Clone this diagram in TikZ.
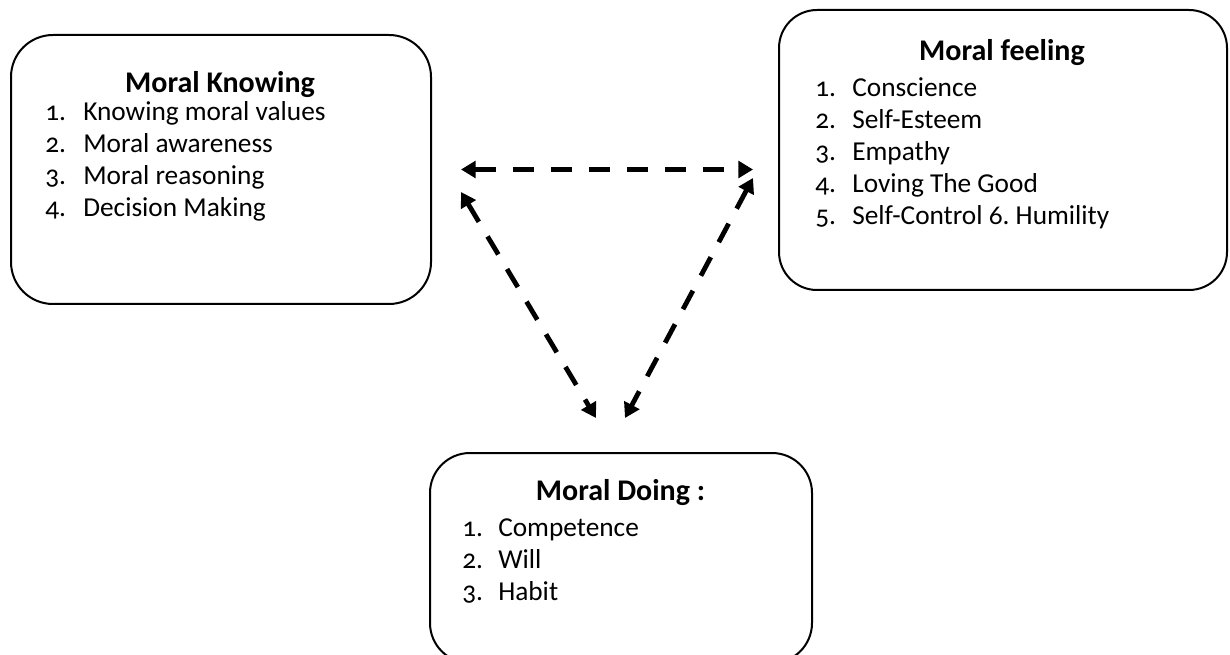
\documentclass[tikz,border=0pt]{standalone}
\usepackage{fontspec}
\setmainfont{Carlito}[Numbers=OldStyle]
\usetikzlibrary{arrows.meta}
\frenchspacing
\tikzset{
  box/.style={draw=black, line width=1.5pt, rectangle, inner sep=0pt},
  ttl/.style={anchor=base, inner sep=0pt, font=\fontsize{22.5pt}{27pt}\selectfont\bfseries},
  num/.style={anchor=base west, inner sep=0pt, font=\fontsize{20.5pt}{24pt}\selectfont},
  itm/.style={anchor=base west, inner sep=0pt, font=\fontsize{20.5pt}{24pt}\selectfont},
  link/.style={line width=3.6pt, dash pattern=on 15.75pt off 12.75pt,
    {Triangle[length=11pt,width=12.5pt]}-{Triangle[length=11pt,width=12.5pt]}}
}
\begin{document}
\frenchspacing
\begin{tikzpicture}[x=0.75pt,y=-0.75pt]
\useasboundingbox (0,0) rectangle (1230,655);
\clip (0,0) rectangle (1230,655);
\fill[white] (0,0) rectangle (1230,655);

% Boxes
\node[box, rounded corners=31.5pt, minimum width=315pt, minimum height=201.75pt] (know) at (221,169.5) {};
\node[box, rounded corners=28.5pt, minimum width=336pt, minimum height=210pt] (feel) at (1003,150) {};
\node[box, rounded corners=30pt, minimum width=286.5pt, minimum height=157.5pt] (doing) at (621,558) {};

% Moral Knowing
\node[ttl] (kt) at (220,92.5) {Moral Knowing};
\node[num] (kn1) at (45,121) {1.};
\node[itm] (ki1) at (83,121) {Knowing moral values};
\node[num] (kn2) at (45,153) {2.};
\node[itm] (ki2) at (83,153) {Moral awareness};
\node[num] (kn3) at (45,185) {3.};
\node[itm] (ki3) at (83,185) {Moral reasoning};
\node[num] (kn4) at (45,217) {4.};
\node[itm] (ki4) at (83,217) {Decision Making};

% Moral feeling
\node[ttl] (ft) at (1002,60.5) {Moral feeling};
\node[num] (fn1) at (815,96.5) {1.};
\node[itm] (fi1) at (852,96.5) {Conscience};
\node[num] (fn2) at (815,128.5) {2.};
\node[itm] (fi2) at (852,128.5) {Self-Esteem};
\node[num] (fn3) at (815,160.5) {3.};
\node[itm] (fi3) at (852,160.5) {Empathy};
\node[num] (fn4) at (815,192.5) {4.};
\node[itm] (fi4) at (852,192.5) {Loving The Good};
\node[num] (fn5) at (815,224.5) {5.};
\node[itm] (fi5) at (852,224.5) {Self-Control 6. Humility};

% Moral Doing
\node[ttl] (dt) at (620.5,500) {Moral Doing :};
\node[num] (dn1) at (462,536) {1.};
\node[itm] (di1) at (498,536) {Competence};
\node[num] (dn2) at (462,568) {2.};
\node[itm] (di2) at (498,568) {Will};
\node[num] (dn3) at (462,600) {3.};
\node[itm] (di3) at (498,600) {Habit};

% Connector end points
\coordinate (hL) at (461,169.5);
\coordinate (hR) at (753,169.5);
\coordinate (lT) at (461,192);
\coordinate (lB) at (596,418);
\coordinate (rT) at (753,178);
\coordinate (rB) at (625,418);

\draw[link] (hL) -- (hR);
\draw[link] (lT) -- (lB);
\draw[link] (rT) -- (rB);
\end{tikzpicture}
\end{document}
